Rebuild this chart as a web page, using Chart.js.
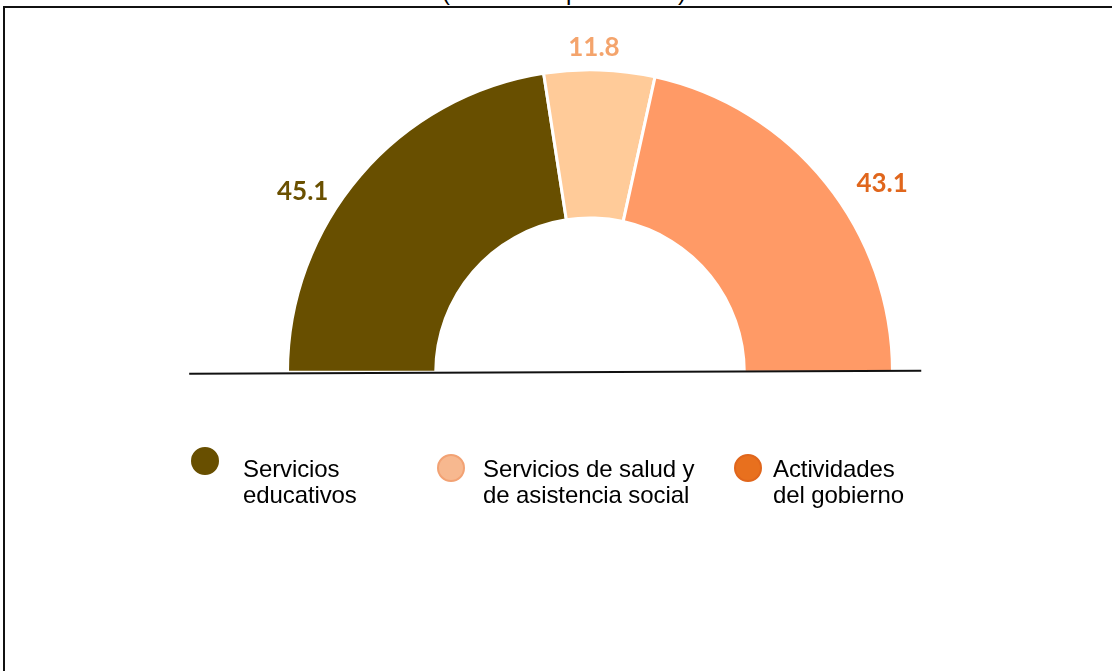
<!DOCTYPE html>
<html>
<head>
<meta charset="utf-8">
<script src="https://cdn.jsdelivr.net/npm/chart.js@4/dist/chart.umd.min.js"></script>
<style>
  html, body { margin: 0; padding: 0; background: #fff; overflow: hidden; }
  #wrap { position: relative; width: 1112px; height: 671px; }
  #frame {
    position: absolute; left: 3px; top: 6px; right: -4px; bottom: -4px;
    border-top: 2px solid #111; border-left: 2px solid #111;
  }
  #title {
    position: absolute; left: 0; width: 1128px; top: -20px;
    text-align: center; font: 24px/24px "Liberation Sans", Arial, sans-serif; color: #000;
  }
  #chart { position: absolute; left: 0; top: 0; }
  #legend {
    position: absolute; left: 191px; top: 447px; display: flex;
    font: 24px/26px "Liberation Sans", Arial, sans-serif; color: #000;
  }
  .item { display: flex; align-items: flex-start; }
  .dot { width: 28px; height: 28px; border-radius: 50%; box-sizing: border-box; flex: none; }
  .txt { margin-top: 9px; letter-spacing: -0.1px; }
</style>
</head>
<body>
<div id="wrap">
  <div id="frame"></div>
  <div id="title">(Estructura porcentual)</div>
  <canvas id="chart" width="1112" height="671"></canvas>
  <div id="legend"></div>
</div>
<script>
// categories and values (percent)
const categories = ['Servicios educativos', 'Servicios de salud y de asistencia social', 'Actividades del gobierno'];
const legendLines = [['Servicios', 'educativos'], ['Servicios de salud y', 'de asistencia social'], ['Actividades', 'del gobierno']];
const values = [45.1, 11.8, 43.1];

const sliceColors = ['#684f00', '#ffcb99', '#ff9a66'];
const labelColors = ['#6a5000', '#f4a46c', '#e0661c'];
const legendColors = ['#684f00', '#f7b88f', '#e8701e'];
const legendBorders = ['#684f00', '#f2a274', '#e0661c'];

// value labels around the ring
const ringLabels = {
  id: 'ringLabels',
  afterDatasetsDraw(chart, args, opts) {
    const ctx = chart.ctx;
    const meta = chart.getDatasetMeta(0);
    ctx.save();
    ctx.font = 'bold 26px Lato, "Open Sans", sans-serif';
    ctx.textAlign = 'center';
    ctx.textBaseline = 'middle';
    meta.data.forEach((arc, i) => {
      const p = arc.getProps(['x', 'y', 'startAngle', 'endAngle', 'outerRadius'], true);
      const nudge = opts.nudges[i];
      const a = (p.startAngle + p.endAngle) / 2 + nudge.da * Math.PI / 180;
      const r = p.outerRadius + nudge.dr;
      ctx.fillStyle = labelColors[i];
      ctx.fillText(values[i].toFixed(1), p.x + r * Math.cos(a), p.y + r * Math.sin(a));
    });
    ctx.restore();
  }
};

// horizontal base line under the half ring
const baseLine = {
  id: 'baseLine',
  afterDatasetsDraw(chart) {
    const arc = chart.getDatasetMeta(0).data[0];
    const ctx = chart.ctx;
    const R = arc.outerRadius;
    ctx.save();
    ctx.strokeStyle = '#111';
    ctx.lineWidth = 1.8;
    ctx.beginPath();
    ctx.moveTo(arc.x - R * 1.325, arc.y + 1.5);
    ctx.lineTo(arc.x + R * 1.095, arc.y - 1.5);
    ctx.stroke();
    ctx.restore();
  }
};

new Chart(document.getElementById('chart'), {
  type: 'doughnut',
  data: {
    labels: categories,
    datasets: [{
      data: values,
      backgroundColor: sliceColors,
      borderColor: '#ffffff',
      borderWidth: 3,
      hoverOffset: 0
    }]
  },
  options: {
    responsive: false,
    animation: false,
    devicePixelRatio: 1,
    rotation: -90,
    circumference: 180,
    cutout: '51%',
    layout: { padding: { left: 286, right: 218, top: 68, bottom: 297 } },
    plugins: {
      legend: { display: false },
      tooltip: { enabled: false },
      ringLabels: { nudges: [{ dr: 37, da: -8.4 }, { dr: 22, da: -1.1 }, { dr: 45, da: 6 }] }
    }
  },
  plugins: [ringLabels, baseLine]
});

// legend built from the same arrays
const legend = document.getElementById('legend');
const itemWidths = [246, 297, 240];
const textGaps = [24, 18, 11];
categories.forEach((c, i) => {
  const item = document.createElement('div');
  item.className = 'item';
  item.style.width = itemWidths[i] + 'px';
  const dot = document.createElement('div');
  dot.className = 'dot';
  dot.style.background = legendColors[i];
  dot.style.border = '2px solid ' + legendBorders[i];
  dot.style.marginRight = textGaps[i] + 'px';
  if (i > 0) dot.style.marginTop = '7px';
  const txt = document.createElement('div');
  txt.className = 'txt';
  txt.innerHTML = legendLines[i].join('<br>');
  item.appendChild(dot);
  item.appendChild(txt);
  legend.appendChild(item);
});
</script>
</body>
</html>
